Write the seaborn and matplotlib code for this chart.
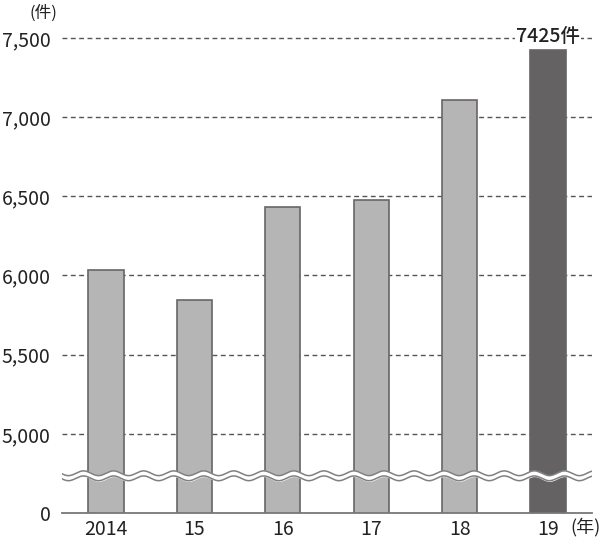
import numpy as np
import pandas as pd
import matplotlib
matplotlib.use('Agg')
import matplotlib.pyplot as plt
import seaborn as sns

# データ
years = ['2014', '15', '16', '17', '18', '19']
counts = [6034, 5846, 6435, 6475, 7110, 7425]
bar_colors = ['#b5b5b5', '#b5b5b5', '#b5b5b5', '#b5b5b5', '#b5b5b5', '#646262']
ytick_values = [4500, 5000, 5500, 6000, 6500, 7000, 7500]
ytick_labels = ['0', '5,000', '5,500', '6,000', '6,500', '7,000', '7,500']

sns.set_style('white')
plt.rcParams['font.family'] = ['Noto Sans CJK JP', 'DejaVu Sans']

df = pd.DataFrame({'year': years, 'count': counts})

fig = plt.figure(figsize=(6, 5.4), dpi=100)
ax = fig.add_axes([0.103, 0.05, 0.884, 0.8944])

sns.barplot(data=df, x='year', y='count', hue='year', palette=bar_colors,
            order=years, legend=False, width=0.4, edgecolor='#6b6565',
            linewidth=1.2, saturation=1, ax=ax, zorder=2)

ax.set_xlim(-0.5, 5.5)
ax.set_ylim(4500, 7550)

# 破線のグリッド
for v in ytick_values[1:]:
    ax.axhline(v, color='#555555', linestyle=(0, (3.5, 2.5)), linewidth=1.0, zorder=1)

ax.set_yticks(ytick_values)
ax.set_yticklabels(ytick_labels)
ax.tick_params(axis='both', length=0, labelsize=14, colors='#222222')
ax.tick_params(axis='y', pad=8)
ax.tick_params(axis='x', pad=4)
ax.set_xlabel('')
ax.set_ylabel('')

for s in ['top', 'right', 'left']:
    ax.spines[s].set_visible(False)
ax.spines['bottom'].set_color('#777777')
ax.spines['bottom'].set_linewidth(1.3)

# 省略の波線
wx = np.linspace(-0.5, 5.5, 1200)
wave = 15 * np.sin(2 * np.pi * wx / 0.34)
mid = 4735
upper = mid + 16 + wave
lower = mid - 16 + wave
ax.fill_between(wx, lower, upper, color='white', zorder=3)
ax.plot(wx, upper, color='#808080', linewidth=1.1, zorder=4)
ax.plot(wx, lower, color='#808080', linewidth=1.1, zorder=4)

# 最新値のラベル
ax.text(5, counts[-1] + 25, f'{counts[-1]}件', ha='center', va='bottom',
        fontsize=14, fontweight='medium', color='#222222',
        bbox=dict(facecolor='white', edgecolor='none', pad=0.5), zorder=5)

# 単位
fig.text(0.073, 0.992, '(件)', ha='center', va='top', fontsize=12, color='#222222')
ax.text(5.42, -0.029, '(年)', transform=ax.get_xaxis_transform(), ha='center', va='center',
        fontsize=13, color='#222222')

fig.savefig('out.png', dpi=100)
